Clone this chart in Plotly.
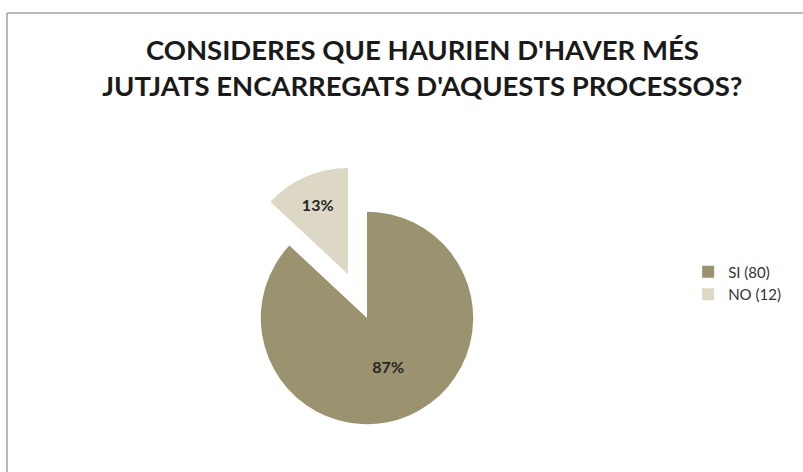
import plotly.graph_objects as go

labels = ["SI (80)", "NO (12)"]
values = [80, 12]
colors = ["#9b9370", "#ddd8c6"]
pulls = [0, 0.45]

W, H = 803, 472
cx, cy = 367, 318  # pie centre in pixels (from top)
half = H - cy       # max half box height from bottom
fig = go.Figure(go.Pie(
    labels=labels,
    values=values,
    sort=False,
    direction="clockwise",
    rotation=0,
    pull=pulls,
    marker=dict(colors=colors, line=dict(width=0)),
    textinfo="percent",
    texttemplate="<b>%{percent:.0%}</b>",
    textposition="inside",
    insidetextorientation="horizontal",
    textfont=dict(family="Lato", size=16, color="#262626"),
    domain=dict(x=[(cx - half) / W, (cx + half) / W], y=[0, 2 * half / H]),
    hoverinfo="label+percent",
))

fig.update_layout(
    width=W, height=H,
    margin=dict(l=0, r=0, t=0, b=0),
    paper_bgcolor="white",
    plot_bgcolor="white",
    title=dict(
        text="<b>CONSIDERES QUE HAURIEN D'HAVER MÉS<br>JUTJATS ENCARREGATS D'AQUESTS PROCESSOS?</b>",
        x=0.526, xanchor="center", y=(H - 60) / H, yanchor="middle",
        font=dict(family="Lato", size=27.5, color="#1a1a1a"),
    ),
    legend=dict(
        x=0.857, y=(H - 283) / H, xanchor="left", yanchor="middle",
        font=dict(family="Lato", size=15, color="#333333"),
        itemwidth=30,
    ),
    shapes=[
        dict(type="line", xref="paper", yref="paper", x0=7 / W, x1=1.02,
             y0=(H - 13) / H, y1=(H - 13) / H, line=dict(color="#aaa2a2", width=1.5)),
        dict(type="line", xref="paper", yref="paper", x0=7 / W, x1=7 / W,
             y0=(H - 13) / H, y1=-0.02, line=dict(color="#aaa2a2", width=1.5)),
    ],
)

fig.write_html(
    "out.html",
    config={"displayModeBar": False},
    post_script="document.body.style.margin='0';document.body.style.overflow='hidden';",
)
